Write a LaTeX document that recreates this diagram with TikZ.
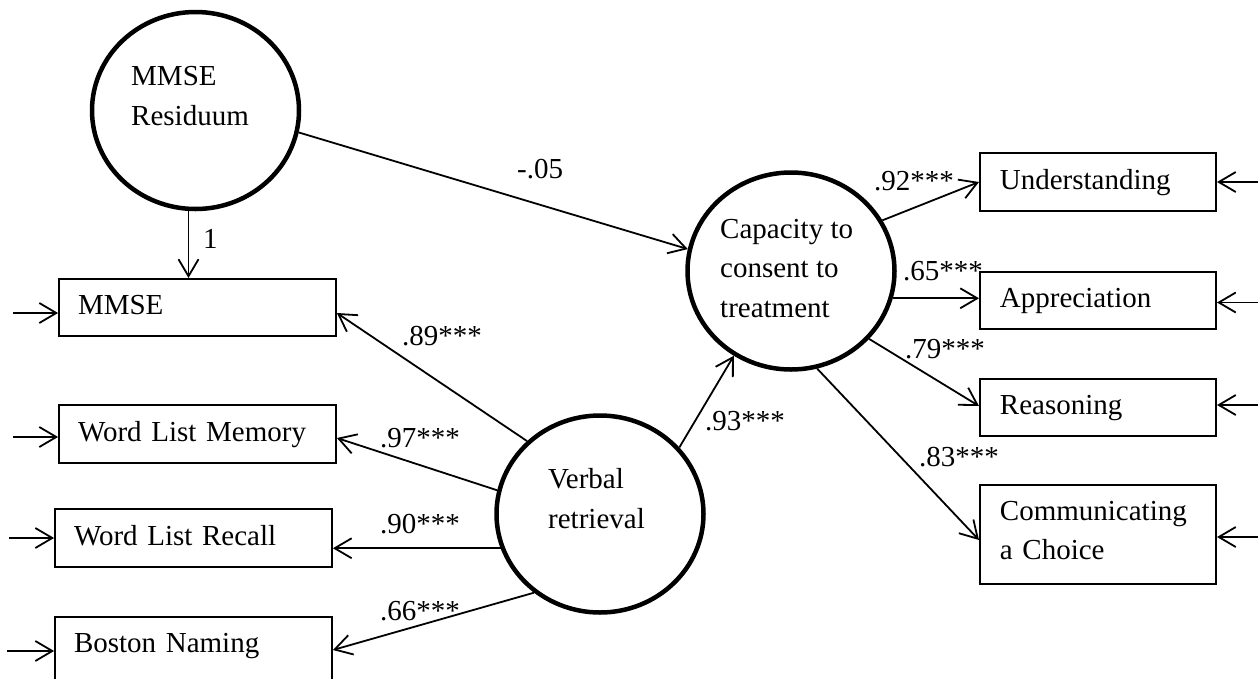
\documentclass[tikz,border=0pt]{standalone}
\usepackage{fontspec}
\setmainfont{Liberation Serif}
\usetikzlibrary{arrows.meta,shapes.geometric}
\begin{document}
\begin{tikzpicture}[x=1pt,y=-1pt,
  font=\fontsize{29}{39.5}\selectfont,
  lat/.style={ellipse,draw,line width=4.5pt,minimum width=207pt,minimum height=197pt,inner sep=0pt},
  obs/.style={rectangle,draw,line width=1.8pt,inner ysep=0pt,align=left,text height=20pt,text depth=6pt},
  obsL/.style={obs,inner xsep=19pt,text width=239pt,minimum height=58.2pt},
  obsR/.style={obs,inner xsep=20pt,text width=196.2pt,minimum height=57.2pt},
  txt/.style={inner sep=0pt,align=left,anchor=base west},
  lbl/.style={inner sep=0pt,anchor=base west},
  arr/.style={line width=1.8pt,-{Straight Barb[length=17pt,width=20pt]}},
]
\useasboundingbox (0,0) rectangle (1258,678);
\clip (0,0) rectangle (1258,678);

% latent variables
\node[lat] (res) at (195.5,110.5) {};
\node[lat] (cap) at (791,271) {};
\node[lat] (vr) at (600,514) {};
\node[txt] (restxt) at (131,125) {MMSE\\Residuum};
\node[txt] (captxt) at (720,317) {Capacity to\\consent to\\treatment};
\node[txt] (vrtxt) at (548,528) {Verbal\\retrieval};

% observed variables, left
\node[obsL,minimum height=57.2pt] (mmse) at (197.5,307.5) {MMSE};
\node[obsL] (wlm) at (197.5,434) {Word List Memory};
\node[obsL] (wlr) at (193.5,538) {Word List Recall};
\node[obsL,minimum height=0pt,text height=35pt,text depth=45pt] (bn) at (193.5,657) {Boston Naming};

% observed variables, right
\node[obsR,minimum height=58.2pt] (und) at (1098,182) {Understanding};
\node[obsR] (app) at (1098,300.5) {Appreciation};
\node[obsR] (rea) at (1098,407.5) {Reasoning};
\node[obsR,minimum height=99.2pt,text height=10pt,text depth=39pt] (com) at (1098,534.5) {Communicating\\a Choice};

% structural paths
\draw[arr] ([xshift=-7pt]res.south) -- ([xshift=-7pt]res.south |- mmse.north);
\draw[arr] (res.-12) -- (cap.168);
\draw[arr] (vr.135) -- ([yshift=-5.5pt]mmse.east);
\draw[arr] (vr.167) -- ([yshift=-4pt]wlm.east);
\draw[arr] (vr.199) -- (vr.199 -| wlr.east);
\draw[arr] (vr.230) -- ([yshift=7pt]bn.east);
\draw[arr] (vr.40) -- (cap.236);
\draw[arr] (cap.29) -- (und.west);
\draw[arr] (cap.-15) -- (cap.-15 -| app.west);
\draw[arr] (cap.-41) -- ([yshift=1.5pt]rea.west);
\draw[arr] (cap.-75) -- ([yshift=-5.5pt]com.west);

% error terms
\coordinate (e1) at (13,313);
\coordinate (e2) at (13,437);
\coordinate (e3) at (9,538);
\coordinate (e4) at (7,651);
\coordinate (f1) at (1258,182);
\coordinate (f2) at (1258,302.5);
\coordinate (f3) at (1258,405);
\coordinate (f4) at (1258,537);
\draw[arr] (e1) -- (e1 -| mmse.west);
\draw[arr] (e2) -- (e2 -| wlm.west);
\draw[arr] (e3) -- (e3 -| wlr.west);
\draw[arr] (e4) -- (e4 -| bn.west);
\draw[arr] (f1) -- (f1 -| und.east);
\draw[arr] (f2) -- (f2 -| app.east);
\draw[arr] (f3) -- (f3 -| rea.east);
\draw[arr] (f4) -- (f4 -| com.east);

% coefficients
\node[lbl] (l1) at (203,248) {1};
\node[lbl] (l05) at (517,178) {-.05};
\node[lbl] (l89) at (402,345) {.89***};
\node[lbl] (l97) at (380,447) {.97***};
\node[lbl] (l90) at (380,533) {.90***};
\node[lbl] (l66) at (380,620) {.66***};
\node[lbl] (l93) at (705,430) {.93***};
\node[lbl] (l92) at (874,190) {.92***};
\node[lbl] (l65) at (903,280) {.65***};
\node[lbl] (l79) at (905,358) {.79***};
\node[lbl] (l83) at (919,466) {.83***};
\end{tikzpicture}
\end{document}
